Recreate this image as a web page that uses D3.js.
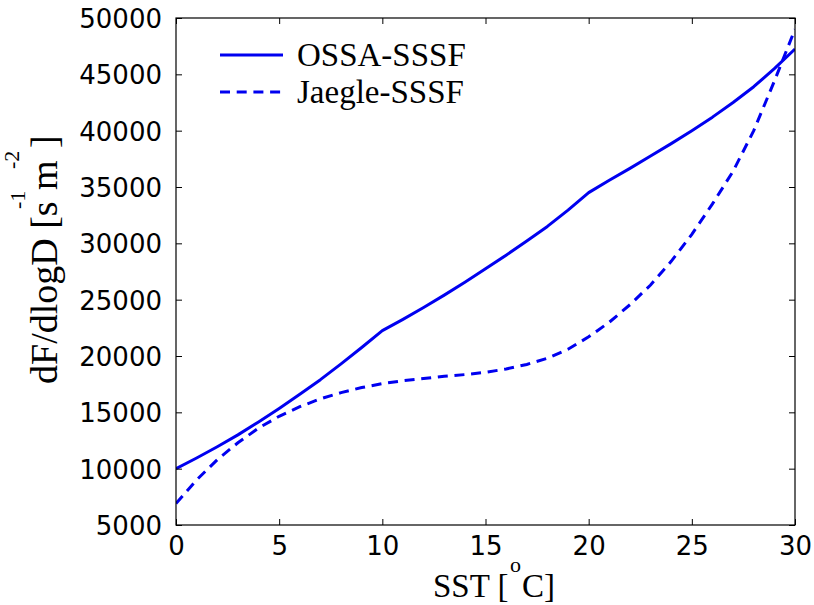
<!DOCTYPE html>
<html>
<head>
<meta charset="utf-8">
<script src="https://cdn.jsdelivr.net/npm/d3@7"></script>
<style>
  body { margin: 0; background: #fff; }
  svg { display: block; }
</style>
</head>
<body>
<div id="chart"></div>
<script>
// SST in degrees C
const sst = [0, 1, 2, 3, 4, 5, 6, 7, 8, 9, 10, 11, 12, 13, 14, 15, 16, 17, 18, 19, 20,
             21, 22, 23, 24, 25, 26, 27, 28, 29, 30];
const ossa = [10000, 10950, 11950, 13000, 14150, 15350, 16600, 17900, 19300, 20750, 22250,
              23250, 24300, 25400, 26550, 27750, 28950, 30200, 31500, 32950, 34500,
              35600, 36650, 37750, 38850, 40000, 41200, 42500, 43900, 45500, 47250];
const jaegle = [6900, 9000, 10800, 12300, 13600, 14650, 15500, 16200, 16750, 17200, 17550,
                17800, 18000, 18200, 18350, 18550, 18850, 19250, 19800, 20600, 21700,
                23000, 24550, 26300, 28400, 30800, 33500, 36400, 40000, 44400, 49000];
const xTicks = [0, 5, 10, 15, 20, 25, 30];
const yTicks = [5000, 10000, 15000, 20000, 25000, 30000, 35000, 40000, 45000, 50000];
const seriesNames = ["OSSA-SSSF", "Jaegle-SSSF"];

const W = 814, H = 605;
const margin = { top: 18, right: 19, bottom: 80, left: 176 };
const width = W - margin.left - margin.right;
const height = H - margin.top - margin.bottom;
const blue = "#0000f0";

const svg = d3.select("#chart")
    .append("svg")
    .attr("width", W)
    .attr("height", H);

const g = svg.append("g")
    .attr("transform", `translate(${margin.left},${margin.top})`);

const x = d3.scaleLinear().domain([0, 30]).range([0, width]);
const y = d3.scaleLinear().domain([5000, 50000]).range([height, 0]);

g.append("defs").append("clipPath").attr("id", "clip")
    .append("rect").attr("width", width).attr("height", height);

// lines
const line = d3.line()
    .x(d => x(d[0]))
    .y(d => y(d[1]));

const plot = g.append("g").attr("clip-path", "url(#clip)");

plot.append("path")
    .datum(d3.zip(sst, ossa))
    .attr("fill", "none")
    .attr("stroke", blue)
    .attr("stroke-width", 3)
    .attr("stroke-linejoin", "round")
    .attr("d", line);

plot.append("path")
    .datum(d3.zip(sst, jaegle))
    .attr("fill", "none")
    .attr("stroke", blue)
    .attr("stroke-width", 3)
    .attr("stroke-dasharray", "10,6.7")
    .attr("d", line);

// axes, ticks pointing inwards on all four sides
const tickFont = "'DejaVu Sans', sans-serif";

function styleAxis(sel) {
    sel.select(".domain").remove();
    sel.selectAll(".tick line").attr("stroke", "#000");
    sel.selectAll("text").attr("font-family", tickFont).attr("font-size", 26).attr("fill", "#000");
}

g.append("g")
    .attr("transform", `translate(0,${height})`)
    .call(d3.axisBottom(x).tickValues(xTicks).tickSize(-6).tickPadding(12).tickFormat(d3.format("d")))
    .call(styleAxis);

g.append("g")
    .call(d3.axisTop(x).tickValues(xTicks).tickSize(-6).tickFormat(""))
    .call(styleAxis);

g.append("g")
    .call(d3.axisLeft(y).tickValues(yTicks).tickSize(-6).tickPadding(14).tickFormat(d3.format("d")))
    .call(styleAxis)
    .selectAll("text").attr("dy", "0.36em");

g.append("g")
    .attr("transform", `translate(${width},0)`)
    .call(d3.axisRight(y).tickValues(yTicks).tickSize(-6).tickFormat(""))
    .call(styleAxis);

g.append("rect")
    .attr("width", width)
    .attr("height", height)
    .attr("fill", "none")
    .attr("stroke", "#000")
    .attr("stroke-width", 1.2);

// axis labels
const serif = "'Liberation Serif', 'Times New Roman', serif";

const xl = svg.append("text")
    .attr("font-family", serif)
    .attr("font-size", 33)
    .attr("fill", "#000");
xl.append("tspan").attr("x", 433).attr("y", 597).text("SST [");
xl.append("tspan").attr("x", 510).attr("y", 572).attr("font-size", 22).text("o");
xl.append("tspan").attr("x", 522).attr("y", 597).text("C]");

// rotated: tspan x = -pageY, tspan y = pageX - 57
const yl = svg.append("text")
    .attr("transform", "translate(57,0) rotate(-90)")
    .attr("font-family", serif)
    .attr("font-size", 38)
    .attr("fill", "#000");
yl.append("tspan").attr("x", -384).attr("y", 0).text("dF/dlogD [s");
yl.append("tspan").attr("x", -209).attr("y", -32).attr("font-size", 22).text("-1");
yl.append("tspan").attr("x", -190).attr("y", 0).text("m");
yl.append("tspan").attr("x", -169).attr("y", -38).attr("font-size", 22).text("-2");
yl.append("tspan").attr("x", -148).attr("y", 0).text("]");

// legend
const legend = svg.append("g");
seriesNames.forEach((name, i) => {
    const ly = 55 + i * 37;
    legend.append("line")
        .attr("x1", 220).attr("x2", 283)
        .attr("y1", ly).attr("y2", ly)
        .attr("stroke", blue)
        .attr("stroke-width", 3)
        .attr("stroke-dasharray", i === 1 ? "10,6.7" : null);
    legend.append("text")
        .attr("x", 297)
        .attr("y", ly + 11)
        .attr("font-family", serif)
        .attr("font-size", 33)
        .attr("fill", "#000")
        .text(name);
});
</script>
</body>
</html>
